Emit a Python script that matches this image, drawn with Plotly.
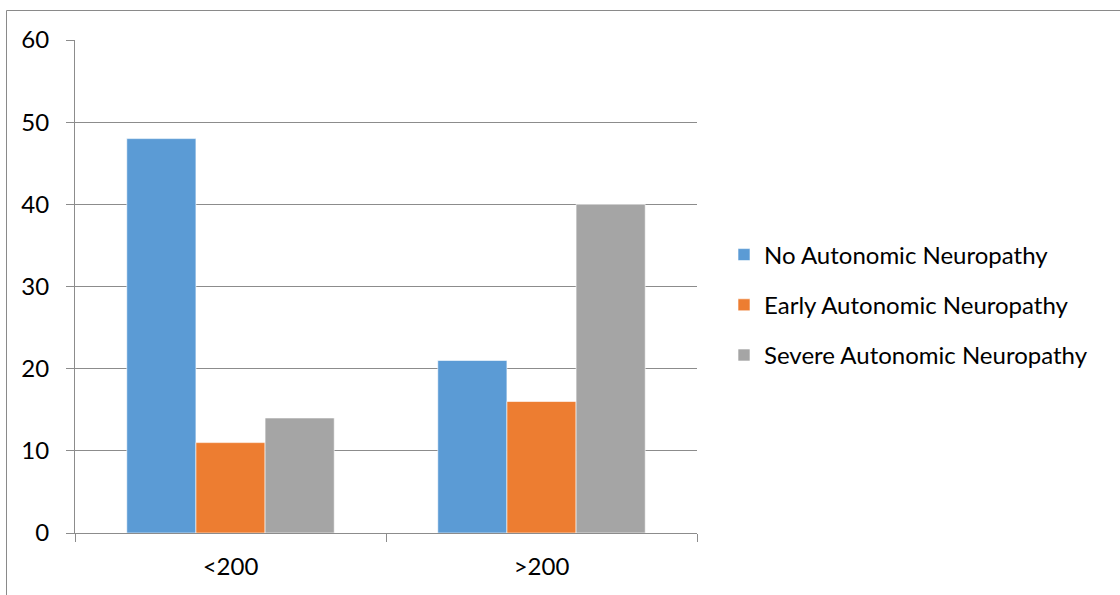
import plotly.graph_objects as go

categories = ["<200", ">200"]
series_names = [
    "No Autonomic Neuropathy",
    "Early Autonomic Neuropathy",
    "Severe Autonomic Neuropathy",
]
no_neuropathy = [48, 21]
early_neuropathy = [11, 16]
severe_neuropathy = [14, 40]
colors = ["#5B9BD5", "#ED7D31", "#A5A5A5"]
y_ticks = [0, 10, 20, 30, 40, 50, 60]

W, H = 1120, 595
L, R, T, B = 75, 423, 40, 62

fig = go.Figure()
for i, (name, vals) in enumerate(zip(series_names, [no_neuropathy, early_neuropathy, severe_neuropathy])):
    fig.add_trace(go.Bar(
        x=categories, y=vals, name=name,
        marker=dict(color=colors[i], line=dict(color="white", width=0.6)),
        legendgroup=f"g{i}",
    ))

font = "Lato, Carlito, Calibri, sans-serif"
axis_col = "#8C8C8C"
fsize = 24

fig.update_layout(
    width=W, height=H,
    margin=dict(l=L, r=R, t=T, b=B),
    paper_bgcolor="white", plot_bgcolor="white",
    barmode="group", bargap=0.333, bargroupgap=0,
    font=dict(family=font, size=fsize, color="black"),
    showlegend=True,
    legend=dict(
        xref="container", yref="container",
        x=724 / W, y=1 - 305 / H, xanchor="left", yanchor="middle",
        font=dict(family=font, size=fsize, color="black"),
        tracegroupgap=16, traceorder="grouped",
        itemwidth=30,
    ),
    xaxis=dict(
        type="category", tickson="boundaries",
        ticks="outside", ticklen=8, tickcolor=axis_col, tickwidth=1,
        showline=True, linecolor=axis_col, linewidth=1,
        showgrid=False, tickfont=dict(family=font, size=fsize),
        ticklabelstandoff=12,
    ),
    yaxis=dict(
        range=[0, 60], tickvals=y_ticks,
        ticks="outside", ticklen=8, tickcolor=axis_col, tickwidth=1,
        showline=True, linecolor=axis_col, linewidth=1,
        showgrid=True, gridcolor=axis_col, gridwidth=1,
        zeroline=False, tickfont=dict(family=font, size=fsize),
        ticklabelstandoff=12,
    ),
    shapes=[
        dict(type="rect", xref="paper", yref="paper",
             x0=(6.5 - L) / (W - L - R), x1=(W + 20 - L) / (W - L - R),
             y0=(H - B - (H + 20)) / (H - T - B), y1=(H - B - 10.5) / (H - T - B),
             line=dict(color="#8A8A8A", width=1), fillcolor="rgba(0,0,0,0)",
             layer="below"),
    ],
)

fig.write_html("out.html")
